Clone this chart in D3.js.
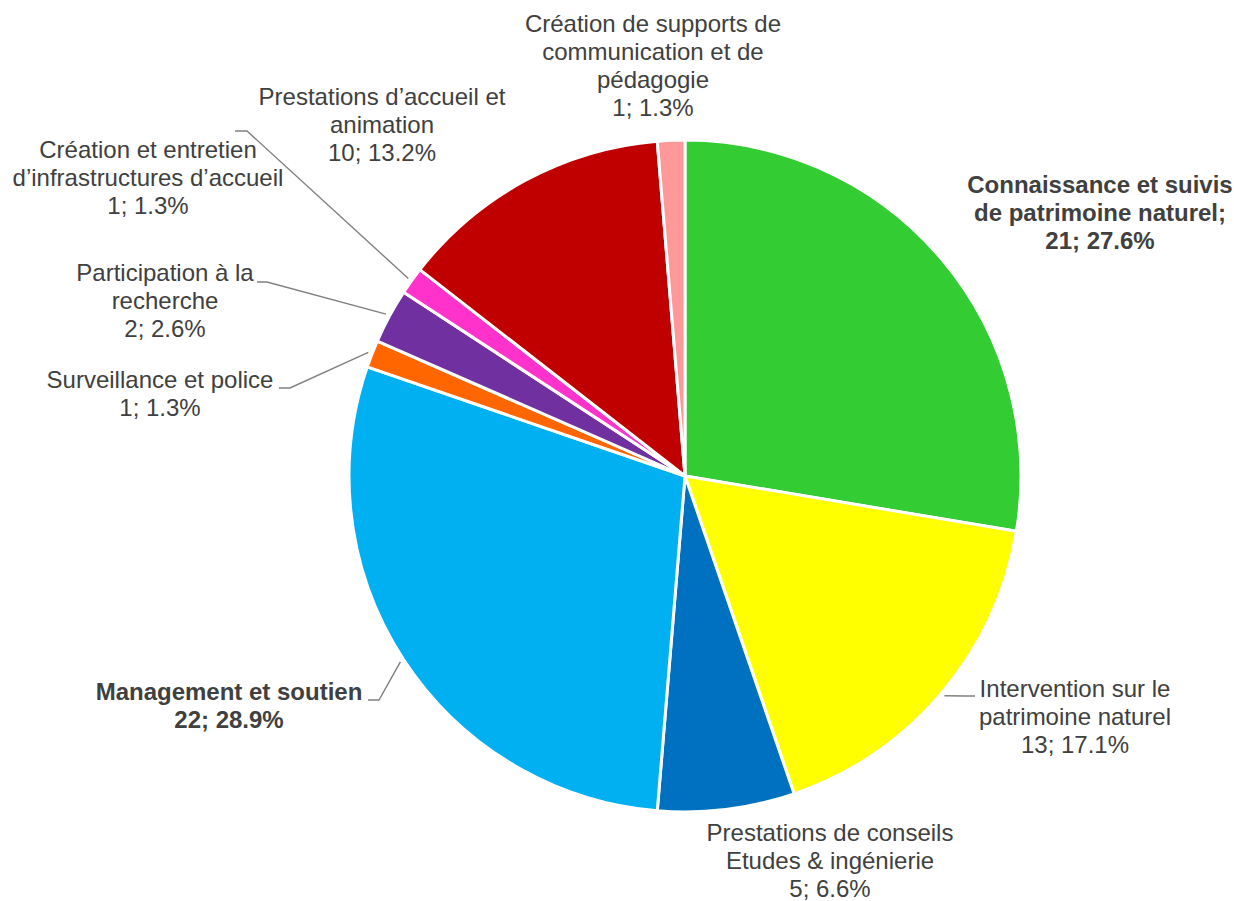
<!DOCTYPE html>
<html>
<head>
<meta charset="utf-8">
<script src="https://cdn.jsdelivr.net/npm/d3@7"></script>
<style>
	body { margin: 0; background: white; }
	svg { display: block; }
</style>
</head>
<body>
<svg id="chart" width="1234" height="901"></svg>
<script>
// data
const categories = [
	"Connaissance et suivis\nde patrimoine naturel;",
	"Intervention sur le\npatrimoine naturel",
	"Prestations de conseils\nEtudes & ingénierie",
	"Management et soutien",
	"Surveillance et police",
	"Participation à la\nrecherche",
	"Création et entretien\nd’infrastructures d’accueil",
	"Prestations d’accueil et\nanimation",
	"Création de supports de\ncommunication et de\npédagogie"
];
const values = [21, 13, 5, 22, 1, 2, 1, 10, 1];
const colors = ["#33CC33", "#FFFF00", "#0070C0", "#00B0F0", "#FF6600", "#7030A0", "#FF33CC", "#C00000", "#FF9999"];
const boldLabels = [true, false, false, true, false, false, false, false, false];

// label layout: centre x, first baseline, optional leader elbow + end
const labelPos = [
	{ x: 1100, y: 193 },
	{ x: 1075, y: 697, elbow: [965, 696], end: [975, 696] },
	{ x: 830, y: 841 },
	{ x: 229, y: 700, elbow: [379, 700], end: [368, 700] },
	{ x: 160, y: 388, elbow: [290, 388], end: [279, 388] },
	{ x: 165, y: 281, elbow: [267, 282], end: [257, 282] },
	{ x: 148, y: 158, elbow: [247, 131], end: [235, 131] },
	{ x: 382, y: 105 },
	{ x: 653, y: 32 }
];

const cx = 685, cy = 476, radius = 336, lineH = 28;
const total = d3.sum(values);

const svg = d3.select("#chart");
const g = svg.append("g").attr("transform", `translate(${cx},${cy})`);

const pie = d3.pie().sort(null).value(d => d)(values);
const arc = d3.arc().innerRadius(0).outerRadius(radius);
const edgeArc = d3.arc().innerRadius(radius + 4).outerRadius(radius + 4);

g.selectAll("path.slice")
	.data(pie)
	.join("path")
	.attr("class", "slice")
	.attr("d", arc)
	.attr("fill", (d, i) => colors[i])
	.attr("stroke", "white")
	.attr("stroke-width", 3)
	.attr("stroke-linejoin", "round");

// leader lines
pie.forEach((d, i) => {
	const p = labelPos[i];
	if (!p.elbow) return;
	const c = edgeArc.centroid(d);
	const pts = [[c[0] + cx, c[1] + cy], p.elbow, p.end];
	svg.append("path")
		.attr("d", d3.line()(pts))
		.attr("fill", "none")
		.attr("stroke", "#808080")
		.attr("stroke-width", 1.4);
});

// labels
categories.forEach((name, i) => {
	const p = labelPos[i];
	const pct = (values[i] / total * 100).toFixed(1);
	const lines = name.split("\n").concat([`${values[i]}; ${pct}%`]);
	const t = svg.append("text")
		.attr("text-anchor", "middle")
		.attr("font-family", "'Liberation Sans', Arial, sans-serif")
		.attr("font-size", 24)
		.attr("font-weight", boldLabels[i] ? "bold" : "normal")
		.attr("fill", "#404040");
	lines.forEach((l, j) => {
		t.append("tspan")
			.attr("x", p.x)
			.attr("y", p.y + j * lineH)
			.text(l);
	});
});
</script>
</body>
</html>
